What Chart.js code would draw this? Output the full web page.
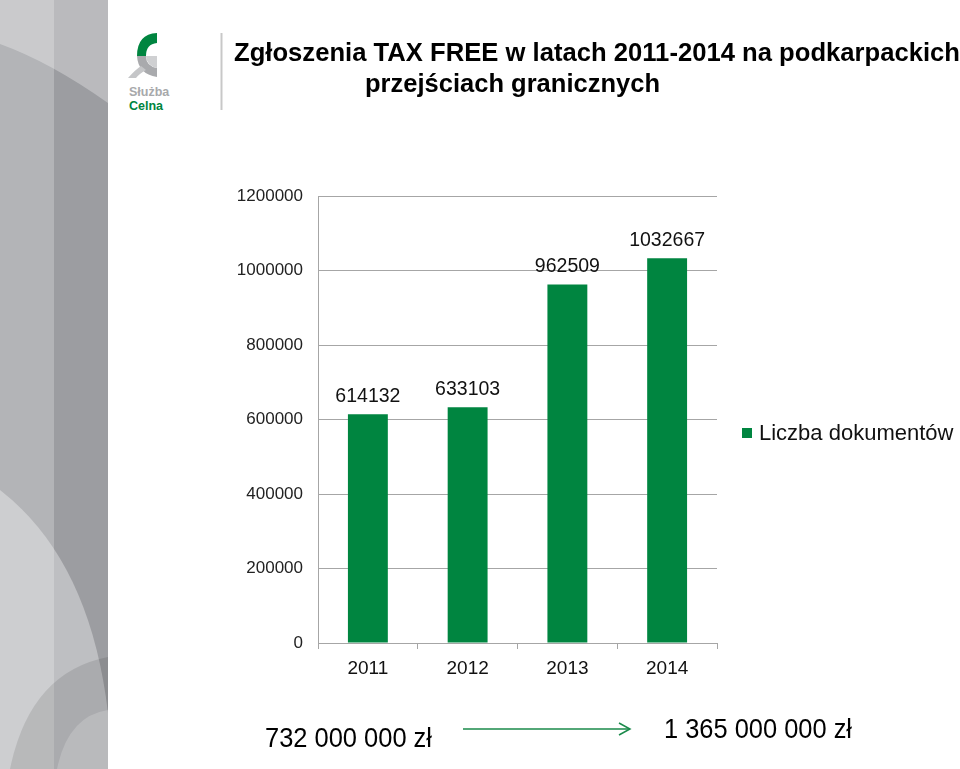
<!DOCTYPE html>
<html>
<head>
<meta charset="utf-8">
<script src="https://cdn.jsdelivr.net/npm/chart.js@4.4.1/dist/chart.umd.min.js"></script>
<style>
    html, body { margin: 0; padding: 0; background: #fff; }
    #page { position: relative; width: 960px; height: 769px; overflow: hidden; font-family: "Liberation Sans", Arial, sans-serif; }
    #side { position: absolute; left: 0; top: 0; }
    #chartCanvas { position: absolute; left: 0; top: 0; }
    .txt { position: absolute; white-space: nowrap; color: #000; }
    .narrow { font-family: "Liberation Sans Narrow", "Arial Narrow", "Liberation Sans", sans-serif; transform-origin: left top; }
    #title1 { left: 234px; top: 37px; font-size: 26px; font-weight: bold; }
    #title2 { left: 365px; top: 68px; font-size: 26px; font-weight: bold; }
    #sumFrom { left: 265px; top: 722px; font-size: 28px; }
    #sumTo { left: 664px; top: 713px; font-size: 28px; }
    #legend { left: 742px; top: 420px; font-size: 22px; color: #111; }
    #legend .box { display: inline-block; width: 10px; height: 10px; background: #008540; margin-right: 7px; vertical-align: 2px; }
    #logoText { left: 129px; top: 85px; font-size: 12.5px; font-weight: bold; line-height: 14px; }
</style>
</head>
<body>
<div id="page">
    <svg id="side" width="960" height="769">
        <!-- left decorative panel -->
        <rect x="0" y="0" width="54" height="769" fill="#b3b4b7"/>
        <rect x="54" y="0" width="54" height="769" fill="#9c9da1"/>
        <path d="M0 0 H108 V103 Q50 62 0 44 Z" fill="#ffffff" opacity="0.3"/>
        <path d="M0 490 Q90 560 108 713 V769 H0 Z" fill="#ffffff" opacity="0.35"/>
        <path d="M10 769 Q30 672 108 657 V769 Z" fill="#000000" opacity="0.1"/>
        <path d="M57 769 Q68 716 108 710 V769 Z" fill="#ffffff" opacity="0.18"/>
        <!-- logo -->
        <path d="M137 56 Q137 34 157 33 L157 43 Q146 44 146 56 Z" fill="#008540"/>
        <path d="M137 56 H146 Q146 66 157 68 V77 Q138 74 137 56 Z" fill="#a9aaad"/>
        <path d="M146 56 H157 V68 Q147 66 146 56 Z" fill="#cfd0d2"/>
        <path d="M128 78 Q135 70 141 66 L146 70 Q139 74 136 78 Z" fill="#c5c6c8"/>
        <line x1="221.5" y1="33" x2="221.5" y2="110" stroke="#c8c8c8" stroke-width="2"/>
        <!-- arrow -->
        <line x1="463" y1="729" x2="629" y2="729" stroke="#1a8a4a" stroke-width="1.5"/>
        <polyline points="619,723 630,729 619,735" fill="none" stroke="#1a8a4a" stroke-width="1.5"/>
    </svg>
    <div class="txt" id="logoText"><span style="color:#a8a9ab">Służba</span><br><span style="color:#008540">Celna</span></div>
    <canvas id="chartCanvas" width="960" height="769"></canvas>
    <div class="txt narrow" id="title1">Zgłoszenia TAX FREE w latach 2011-2014 na podkarpackich</div>
    <div class="txt narrow" id="title2">przejściach granicznych</div>
    <div class="txt" id="legend"><span class="box"></span>Liczba dokumentów</div>
    <div class="txt narrow" id="sumFrom">732 000 000 zł</div>
    <div class="txt narrow" id="sumTo">1 365 000 000 zł</div>
</div>
<script>
// --- Chart data ---
const years = ["2011", "2012", "2013", "2014"];
const documentCounts = [614132, 633103, 962509, 1032667];
const seriesName = "Liczba dokumentów";
const yMax = 1200000;
const yStep = 200000;

const barGreen = "#008540";
const gridGray = "#a6a6a6";

// squeeze the narrow-font texts to the width they take in the slide
function fitWidth(id, target) {
    const el = document.getElementById(id);
    const w = el.getBoundingClientRect().width;
    if (w > 0) el.style.transform = `scaleX(${target / w})`;
}
fitWidth("title1", 726);
fitWidth("title2", 295);
fitWidth("sumFrom", 167);
fitWidth("sumTo", 188);

// value labels above the bars
const valueLabels = {
    id: "valueLabels",
    afterDatasetsDraw(chart) {
        const { ctx } = chart;
        const meta = chart.getDatasetMeta(0);
        ctx.save();
        ctx.font = "19.5px 'Liberation Sans', Arial, sans-serif";
        ctx.fillStyle = "#111";
        ctx.textAlign = "center";
        ctx.textBaseline = "bottom";
        meta.data.forEach((bar, i) => {
            ctx.fillText(String(chart.data.datasets[0].data[i]), bar.x, bar.y - 8);
        });
        ctx.restore();
    }
};

const ctx = document.getElementById("chartCanvas").getContext("2d");
new Chart(ctx, {
    type: "bar",
    data: {
        labels: years,
        datasets: [{
            label: seriesName,
            data: documentCounts,
            backgroundColor: barGreen,
            categoryPercentage: 1,
            barPercentage: 0.4
        }]
    },
    options: {
        responsive: false,
        animation: false,
        layout: { padding: { left: 230, right: 243, top: 196, bottom: 86 } },
        plugins: {
            legend: { display: false },
            tooltip: { enabled: false }
        },
        scales: {
            x: {
                afterFit(scale) { scale.height = 40; },
                grid: { drawOnChartArea: false, drawTicks: true, tickLength: 6, color: gridGray },
                border: { color: gridGray },
                ticks: { color: "#111", padding: 8, font: { size: 19, family: "'Liberation Sans', Arial, sans-serif" } }
            },
            y: {
                min: 0,
                max: yMax,
                afterFit(scale) { scale.width = 88; },
                grid: { color: gridGray, drawTicks: false, tickLength: 0 },
                border: { color: gridGray },
                ticks: {
                    stepSize: yStep,
                    padding: 15,
                    color: "#222",
                    font: { size: 17, family: "'Liberation Sans', Arial, sans-serif" },
                    callback: v => String(v)
                }
            }
        }
    },
    plugins: [valueLabels]
});
</script>
</body>
</html>
